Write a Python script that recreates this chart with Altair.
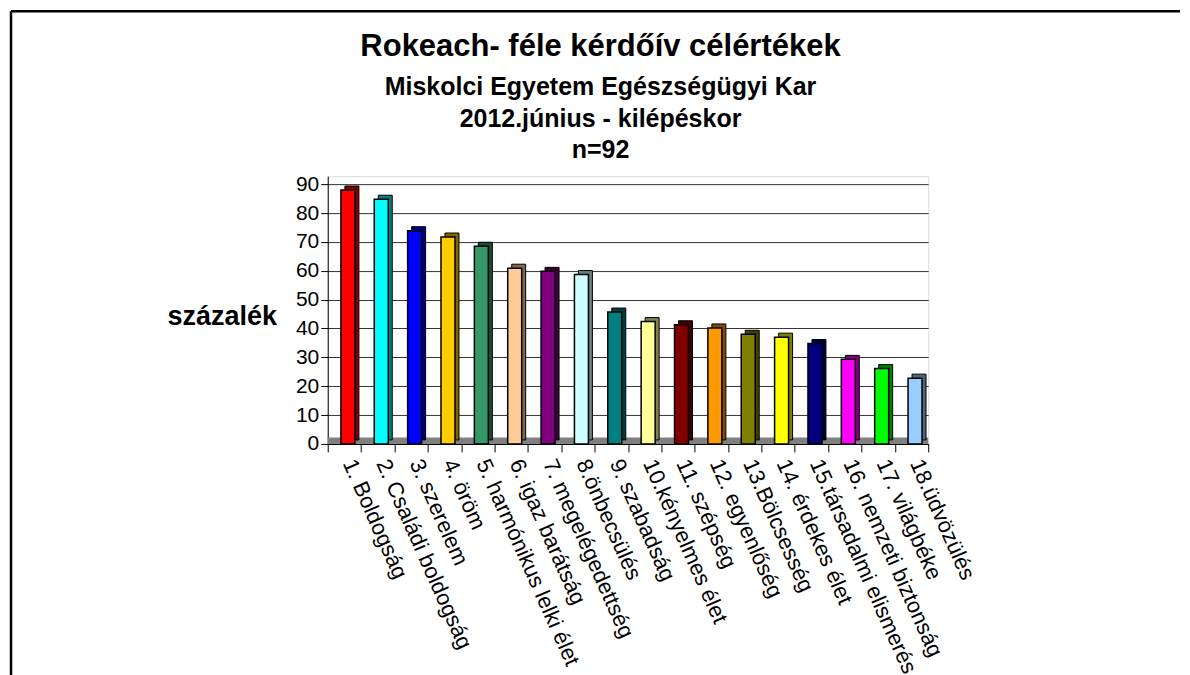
import altair as alt
import pandas as pd

categories = [
    "1. Boldogság", "2. Családi boldogság", "3. szerelem", "4. öröm",
    "5. harmónikus lelki élet", "6. igaz barátság", "7. megelégedettség",
    "8.önbecsülés", "9. szabadság", "10.kényelmes élet", "11. szépség",
    "12. egyenlőség", "13.Bölcsesség", "14. érdekes élet",
    "15.társadalmi elismerés", "16. nemzeti biztonság", "17. világbéke",
    "18.üdvözülés",
]
values = [88.0, 84.8, 73.9, 71.7, 68.5, 60.9, 59.8, 58.7, 45.7, 42.4,
          41.3, 40.2, 38.0, 37.0, 34.8, 29.3, 26.1, 22.8]
y_ticks = [0, 10, 20, 30, 40, 50, 60, 70, 80, 90]

title_text = "Rokeach- féle kérdőív célértékek"
subtitle_lines = ["Miskolci Egyetem Egészségügyi Kar", "2012.június - kilépéskor", "n=92"]
y_title = "százalék"

front_colors = ["#FF0000", "#00FFFF", "#0000FF", "#FFCC00", "#339966", "#FFCC99",
                "#800080", "#CCFFFF", "#008080", "#FFFF99", "#800000", "#FF9900",
                "#808000", "#FFFF00", "#000080", "#FF00FF", "#00FF00", "#99CCFF"]
side_colors = ["#800000", "#008080", "#000080", "#806600", "#1A4D33", "#80664D",
               "#400040", "#668080", "#004040", "#80804D", "#400000", "#804D00",
               "#404000", "#808000", "#000040", "#800080", "#008000", "#4D6680"]

FONT = "Liberation Sans"
W, H = 601, 268

df = pd.DataFrame({"cat": categories, "val": values})
one = pd.DataFrame({"a": [0]})

y_scale = alt.Scale(domain=[0, 92.8], nice=False, zero=True)
y_axis = alt.Axis(values=y_ticks, title=y_title, titleAngle=0, titleX=-106, titleY=148,
                  titleAlign="center", titleBaseline="alphabetic", titleFont=FONT,
                  titleFontSize=27, titleFontWeight="bold", titleColor="black",
                  labelFont=FONT, labelFontSize=21, labelColor="black",
                  labelOverlap=False, tickSize=7, tickColor="black", domainColor="black",
                  grid=True, gridColor="#333333", gridWidth=1, labelPadding=2)

x_enc = alt.X(
    "cat:N", sort=categories,
    scale=alt.Scale(domain=categories, paddingInner=0, paddingOuter=0),
    axis=alt.Axis(title=None, labelAngle=66, labelAlign="left", labelBaseline="middle",
                  labelFont=FONT, labelFontSize=22, labelColor="black",
                  labelOverlap=False, labelOffset=4,
                  tickBand="extent", tickSize=8, tickColor="black",
                  domainColor="black", labelPadding=8, labelLimit=600, grid=False),
)
y_enc = alt.Y("val:Q", scale=y_scale, axis=y_axis)

floor = alt.Chart(one).mark_rect(color="#808080").encode(
    x=alt.value(0), x2=alt.value(W),
    y=alt.YDatum(0, scale=y_scale, axis=y_axis), y2=alt.Y2Datum(2.2))

side = alt.Chart(df).mark_bar(width=14, xOffset=7.5, yOffset=-4, stroke="black",
                              strokeWidth=1).encode(
    x=x_enc, y=y_enc,
    color=alt.Color("cat:N", scale=alt.Scale(domain=categories, range=side_colors), legend=None),
)
front = alt.Chart(df).mark_bar(width=14, xOffset=3.5, stroke="black",
                               strokeWidth=1.5).encode(
    x=x_enc, y=y_enc,
    fill=alt.Fill("cat:N", scale=alt.Scale(domain=categories, range=front_colors), legend=None),
)

top_line = alt.Chart(one).mark_rule(color="black", strokeWidth=2.5).encode(
    x=alt.value(-317), x2=alt.value(853), y=alt.value(-165))
left_line = alt.Chart(one).mark_rule(color="black", strokeWidth=2.5).encode(
    x=alt.value(-317), y=alt.value(-165), y2=alt.value(505))

title_mark = alt.Chart(one).mark_text(
    font=FONT, fontSize=31, fontWeight="bold", color="black",
    align="center", baseline="alphabetic").encode(
    x=alt.value(273), y=alt.value(-120), text=alt.value(title_text))

sub_layers = []
for line, ypos in zip(subtitle_lines, [-81, -49, -18]):
    sub_layers.append(alt.Chart(one).mark_text(
        font=FONT, fontSize=25, fontWeight="bold", color="black",
        align="center", baseline="alphabetic").encode(
        x=alt.value(273), y=alt.value(ypos), text=alt.value(line)))

chart = alt.layer(floor, side, front, top_line, left_line, title_mark, *sub_layers).resolve_scale(
    color="independent", fill="independent"
).properties(
    width=W, height=H,
    padding={"left": 1, "top": 1, "right": 0, "bottom": 0},
).configure_view(fill="#C0C0C0", stroke="#808080", strokeWidth=1.5
).configure(background="white")

chart.save("out.html", embed_options={"renderer": "svg", "actions": False})
